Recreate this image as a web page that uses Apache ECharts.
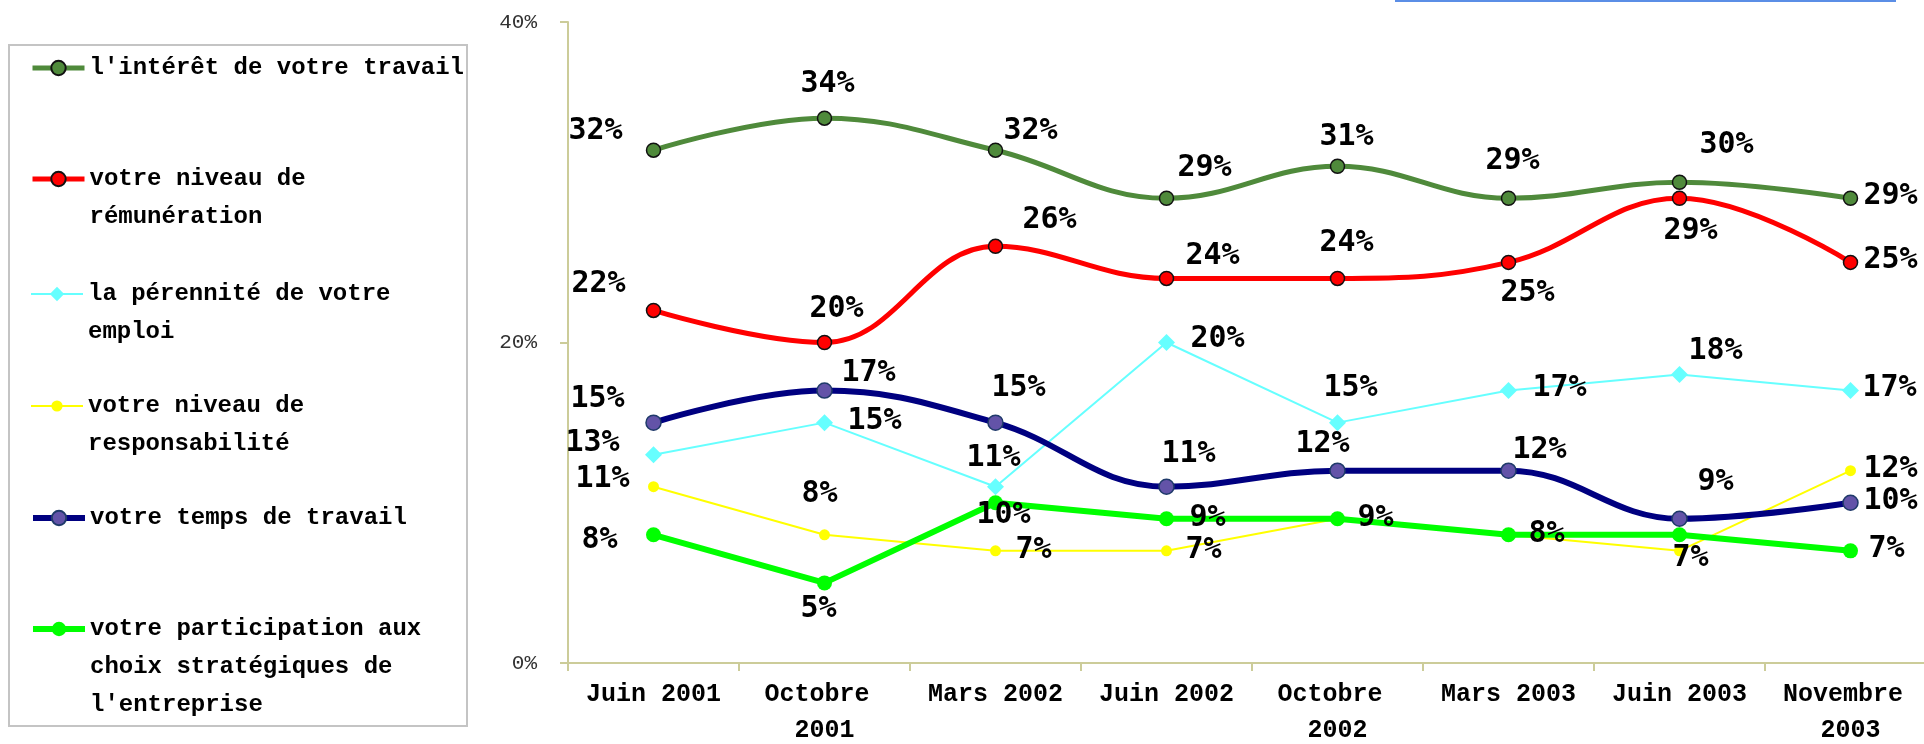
<!DOCTYPE html>
<html><head><meta charset="utf-8">
<script src="https://cdn.jsdelivr.net/npm/echarts@6/dist/echarts.min.js"></script>
<style>html,body{margin:0;padding:0;background:#fff}#c{width:1924px;height:744px}</style>
</head><body><div id="c"></div>
<script>
// ---------- DATA ----------
const categories = ['Juin 2001','Octobre 2001','Mars 2002','Juin 2002','Octobre 2002','Mars 2003','Juin 2003','Novembre 2003'];
const seriesNames = [
  "l'intérêt de votre travail",
  "votre niveau de\nrémunération",
  "la pérennité de votre\nemploi",
  "votre niveau de\nresponsabilité",
  "votre temps de travail",
  "votre participation aux\nchoix stratégiques de\nl'entreprise"
];
const interet        = [32,34,32,29,31,29,30,29];
const remuneration   = [22,20,26,24,24,25,29,25];
const perennite      = [13,15,11,20,15,17,18,17];
const responsabilite = [11, 8, 7, 7, 9, 8, 7,12];
const tempsTravail   = [15,17,15,11,12,12, 9,10];
const participation  = [ 8, 5,10, 9, 9, 8, 8, 7];
const yMin = 0, yMax = 40, yStep = 20;

// ---------- LAYOUT (label offsets from each point, px; null = no label) ----------
const labelOffsets = [
  [[-58,-19],[3,-34],[35,-19],[38,-30],[9,-29],[4,-37],[47,-37],[40,-2]],
  [[-55,-26],[12,-33],[54,-26],[46,-22],[9,-35],[19,31],[11,33],[40,-2]],
  [[-61,-11],[50,-1],[-2,-29],[51,-3],[13,-34],[51,-2],[36,-23],[39,-2]],
  [[-51,-8],[-5,-41],[38,-1],[37,-1],null,null,[11,7],[40,-1]],
  [[-56,-23],[44,-17],[23,-34],[22,-33],[-15,-26],[31,-20],[36,-37],[40,-2]],
  [[-54,5],[-6,26],[8,12],[41,-1],[38,-1],[38,-1],null,[36,-2]]
];
const legendIconY = [66,177,292,404,516,627];
const LH = 38;

const styles = [
  {color:'#4F8A3B', width:5, symbol:'circle', size:14, border:'#111', bw:1.5, smooth:true},
  {color:'#FF0000', width:5, symbol:'circle', size:14, border:'#111', bw:1.5, smooth:true},
  {color:'#66FFFF', width:2, symbol:'diamond', size:17, border:null, bw:0, smooth:false},
  {color:'#FFFF00', width:2, symbol:'circle', size:11, border:null, bw:0, smooth:false},
  {color:'#000080', width:6, symbol:'circle', size:15, border:'#1F3A6A', bw:1.5, smooth:true, fill:'#6353A8'},
  {color:'#00FF00', width:6, symbol:'circle', size:15, border:null, bw:0, smooth:false}
];
const values = [interet, remuneration, perennite, responsabilite, tempsTravail, participation];

const series = values.map((vals, s) => {
  const st = styles[s];
  return {
    name: seriesNames[s],
    type: 'line',
    smooth: st.smooth ? 0.4 : false,
    symbol: st.symbol,
    symbolSize: st.size,
    z: 2 + s,
    lineStyle: {color: st.color, width: st.width},
    itemStyle: {color: st.fill || st.color, borderColor: st.border || st.color, borderWidth: st.bw},
    label: {
      show: true, position: 'inside', formatter: '{c}%',
      color: '#000', fontFamily: 'DejaVu Sans Mono', fontWeight: 'bold', fontSize: 30
    },
    emphasis: {disabled: true},
    data: vals.map((v, i) => {
      const off = labelOffsets[s][i];
      return off ? {value: v, label: {offset: off}} : {value: v, label: {show: false}};
    })
  };
});

const legends = seriesNames.map((name, s) => {
  const n = name.split('\n').length;
  const st = styles[s];
  return {
    data: [name],
    orient: 'vertical',
    left: 30,
    top: legendIconY[s] - LH * (2 * n - 1) / 2,
    padding: 0,
    itemWidth: 52,
    itemHeight: s === 3 ? 14 : 18,
    selectedMode: false,
    formatter: (t) => '\n'.repeat(n - 1) + t,
    lineStyle: {width: st.width, color: st.color},
    textStyle: {
      fontFamily: 'Liberation Mono', fontWeight: 'bold', fontSize: 24, color: '#000',
      lineHeight: LH, padding: [4, 0, 0, 0]
    }
  };
});

const axisColor = '#CCCC99';
const option = {
  animation: false,
  backgroundColor: '#fff',
  grid: {left: 568, top: 22, width: 1368, height: 641, containLabel: false, outerBoundsMode: 'none'},
  legend: legends,
  xAxis: {
    type: 'category', data: categories, boundaryGap: true,
    axisLine: {lineStyle: {color: axisColor, width: 2}},
    axisTick: {show: true, length: 8, interval: 0, lineStyle: {color: axisColor, width: 2}},
    axisLabel: {
      interval: 0, margin: 14, fontFamily: 'Liberation Mono', fontWeight: 'bold',
      fontSize: 25, color: '#000', lineHeight: 36, width: 165, overflow: 'break'
    },
    splitLine: {show: false}
  },
  yAxis: {
    type: 'value', min: yMin, max: yMax, interval: yStep,
    axisLine: {show: true, lineStyle: {color: axisColor, width: 2}},
    axisTick: {show: true, length: 8, lineStyle: {color: axisColor, width: 2}},
    axisLabel: {formatter: '{value}%', margin: 31, fontFamily: 'Liberation Mono', fontSize: 21, color: '#333'},
    splitLine: {show: false}
  },
  graphic: [
    {type: 'rect', shape: {x: 9, y: 45, width: 458, height: 681}, style: {fill: 'none', stroke: '#C4C4C4', lineWidth: 2}, z: -1},
    {type: 'line', shape: {x1: 1395, y1: 1, x2: 1896, y2: 1}, style: {stroke: '#5B8EE6', lineWidth: 2}}
  ],
  series: series
};
const chart = echarts.init(document.getElementById('c'), null, {renderer: 'canvas'});
chart.setOption(option);
</script></body></html>
